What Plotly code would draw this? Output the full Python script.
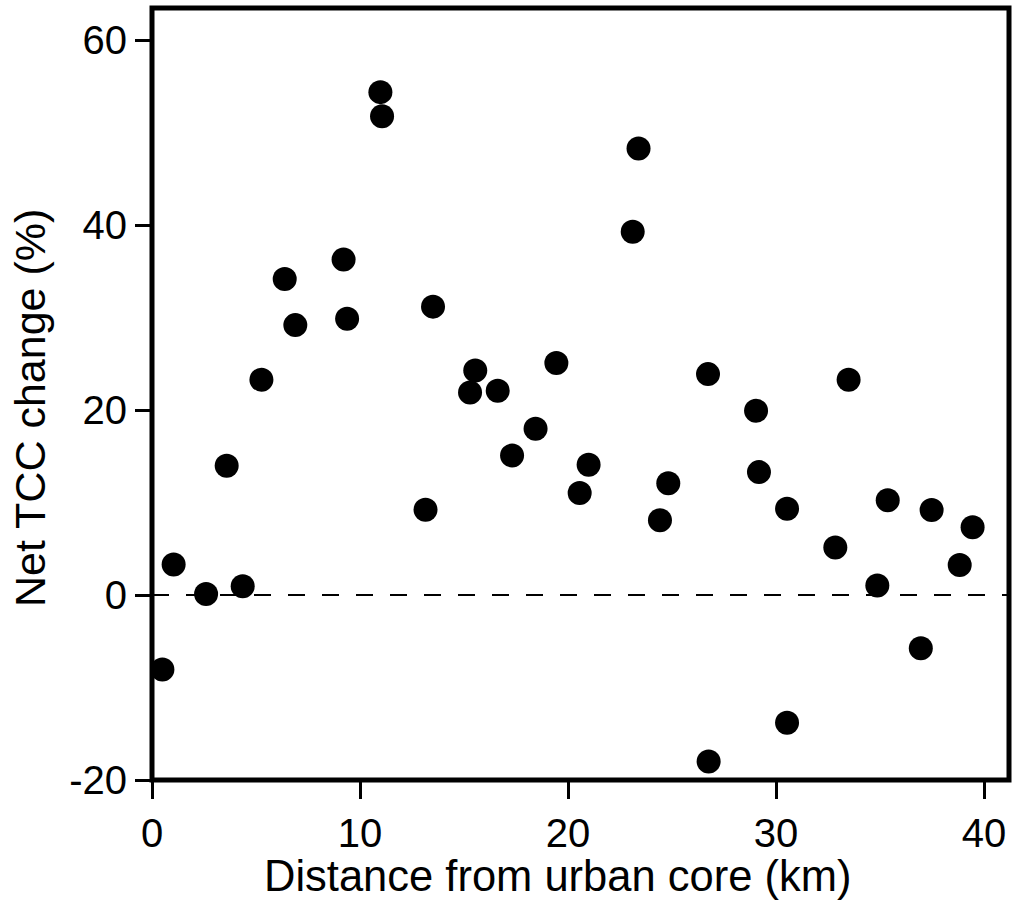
import plotly.graph_objects as go

# Distance from the urban core (km) and net tree canopy cover change (%)
distance_km = [0.50, 1.04, 2.60, 3.59, 4.36, 5.26, 6.38, 6.89, 9.21, 9.38,
               10.98, 11.06, 13.15, 13.51, 15.29, 15.54, 16.62, 17.31, 18.44, 19.44,
               20.56, 20.99, 23.11, 23.39, 24.42, 24.82, 26.73, 26.76, 29.04, 29.18,
               30.53, 30.53, 32.85, 33.49, 34.87, 35.37, 36.96, 37.48, 38.83, 39.45]
net_tcc_change = [-8.05, 3.30, 0.13, 14.0, 0.95, 23.3, 34.2, 29.2, 36.3, 29.9,
                  54.4, 51.8, 9.24, 31.2, 21.9, 24.3, 22.1, 15.1, 18.0, 25.1,
                  11.05, 14.1, 39.3, 48.3, 8.1, 12.1, 23.9, -18.0, 19.95, 13.3,
                  9.35, -13.8, 5.14, 23.3, 1.03, 10.25, -5.75, 9.21, 3.26, 7.33]

x_ticks = [0, 10, 20, 30, 40]
y_ticks = [-20, 0, 20, 40, 60]
y_tick_labels = ["-20", "0", "20", "40", "60"]

FONT = "Arial, Liberation Sans, sans-serif"

fig = go.Figure()
fig.add_trace(go.Scatter(
    x=distance_km, y=net_tcc_change, mode="markers",
    marker=dict(size=24, color="black", line=dict(width=0)),
    hoverinfo="x+y", showlegend=False,
))

# dashed reference line at zero change
fig.add_shape(type="line", xref="paper", yref="y", x0=0, x1=1, y0=0, y1=0,
              line=dict(color="black", width=2, dash="17px,17px"), layer="below")
# box around the plotting region
fig.add_shape(type="rect", xref="paper", yref="paper", x0=0, x1=1, y0=0, y1=1,
              line=dict(color="black", width=5), layer="above")

fig.update_xaxes(range=[0, 41.2], tickvals=x_ticks, ticks="outside", ticklen=18,
                 tickwidth=3, tickcolor="black", showgrid=False, zeroline=False,
                 showline=False, tickfont=dict(family=FONT, size=40, color="black"))
fig.update_yaxes(range=[-20, 63.5], tickvals=y_ticks, ticktext=y_tick_labels,
                 ticks="outside", ticklen=16,
                 tickwidth=3, tickcolor="black", showgrid=False, zeroline=False,
                 showline=False, tickfont=dict(family=FONT, size=40, color="black"))

fig.add_annotation(text="Distance from urban core (km)", xref="paper", yref="paper",
                   x=(557.5 - 152) / 857, y=-(876 - 780) / 772,
                   xanchor="center", yanchor="middle", showarrow=False,
                   font=dict(family=FONT, size=43.5, color="black"))
fig.add_annotation(text="Net TCC change (%)", xref="paper", yref="paper",
                   x=-(152 - 30) / 857, y=(780 - 408) / 772, textangle=-90,
                   xanchor="center", yanchor="middle", showarrow=False,
                   font=dict(family=FONT, size=43, color="black"))

fig.update_layout(
    width=1013, height=915,
    margin=dict(l=152, r=4, t=8, b=135),
    paper_bgcolor="white", plot_bgcolor="white",
)

fig.write_html("out.html")
